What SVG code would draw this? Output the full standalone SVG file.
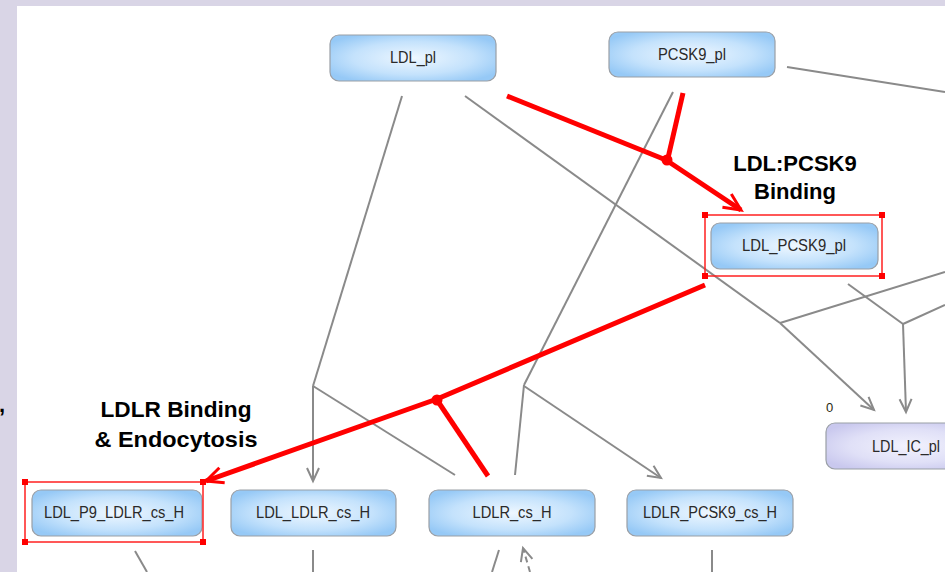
<svg xmlns="http://www.w3.org/2000/svg" width="945" height="572" viewBox="0 0 945 572">
<style>
.node rect{stroke:#9a9fa6;stroke-width:1.2}
.blue{fill:url(#gBlue)}
.lav{fill:url(#gLav)}
.node text{font-family:"Liberation Sans",Arial,sans-serif;font-size:16px;fill:#2a2a2a;text-anchor:middle}
.lbl{font-family:"Liberation Sans",Arial,sans-serif;font-weight:bold;font-size:22px;fill:#000;text-anchor:middle}
.g{fill:none;stroke:#8a8a8a;stroke-width:2}
.r{fill:none;stroke:#ff0000;stroke-width:5;stroke-linejoin:round}
.sel{fill:none;stroke:#ff2020;stroke-width:1.5}
.h{fill:#ff0000}
</style>
<defs>
<radialGradient id="gBlue" cx="50%" cy="50%" r="60%">
<stop offset="0" stop-color="#eef7ff"/>
<stop offset="0.6" stop-color="#c4e2fc"/>
<stop offset="1" stop-color="#96c9f6"/>
</radialGradient>
<radialGradient id="gLav" cx="50%" cy="50%" r="60%">
<stop offset="0" stop-color="#f2f2fd"/>
<stop offset="0.6" stop-color="#e0e0f7"/>
<stop offset="1" stop-color="#c9c8ee"/>
</radialGradient>
<marker id="ag" markerUnits="userSpaceOnUse" viewBox="-16 -9 18 18" refX="0" refY="0" markerWidth="18" markerHeight="18" orient="auto" overflow="visible">
<path d="M-13,-6 L0,0 L-13,6" fill="none" stroke="#8a8a8a" stroke-width="2"/>
</marker>
<marker id="ar" markerUnits="userSpaceOnUse" viewBox="-20 -12 22 24" refX="0" refY="0" markerWidth="22" markerHeight="24" orient="auto" overflow="visible">
<path d="M-17,-8 L0,0 L-17,8" fill="none" stroke="#ff0000" stroke-width="3"/>
</marker>
</defs>
<rect x="0" y="0" width="945" height="572" fill="#d9d5e6"/>
<rect x="17" y="6" width="928" height="566" fill="#ffffff"/>
<text x="-1" y="412" font-family="Liberation Sans,Arial,sans-serif" font-weight="bold" font-size="22" fill="#000">,</text>

<g id="connectors">
<path class="g" d="M402,96 L313,386"/>
<path class="g" d="M455,475 L313,386"/>
<path class="g" d="M313,386 L313,481" marker-end="url(#ag)"/>
<path class="g" d="M673,92 L524,385"/>
<path class="g" d="M515,475 L524,385"/>
<path class="g" d="M524,386 L661,478" marker-end="url(#ag)"/>
<path class="g" d="M465,96 L780,323"/>
<path class="g" d="M945,272 L780,323"/>
<path class="g" d="M780,323 L874,410" marker-end="url(#ag)"/>
<path class="g" d="M848,284 L903,324"/>
<path class="g" d="M945,305 L903,324"/>
<path class="g" d="M903,324 L906,412" marker-end="url(#ag)"/>
<path class="g" d="M787,67 L945,92"/>
<path class="g" d="M135,551 L147,572"/>
<path class="g" d="M313,550 L313,572"/>
<path class="g" d="M499,550 L492,572"/>
<path class="g" d="M530,572 L523,548" stroke-dasharray="6,4" marker-end="url(#ag)"/>
<path class="g" d="M712,550 L712,572"/>
<path class="r" d="M507,96 L666,160"/>
<path class="r" d="M683,93 L668,158"/>
<path class="r" d="M666,160 L741,210" marker-end="url(#ar)"/>
<circle cx="667" cy="160" r="5.5" fill="#ff0000"/>
<path class="r" d="M705,285 L437,399 L206,481" marker-end="url(#ar)"/>
<path class="r" d="M488,476 L437,400"/>
<circle cx="437" cy="400" r="5.5" fill="#ff0000"/>
</g>

<g id="n-LDL_pl" class="node"><rect class="blue" x="330" y="35" width="166" height="46" rx="9"/><text x="413" y="63" textLength="46" lengthAdjust="spacingAndGlyphs">LDL_pl</text></g>
<g id="n-PCSK9_pl" class="node"><rect class="blue" x="609" y="32" width="166" height="45" rx="9"/><text x="692" y="60" textLength="68" lengthAdjust="spacingAndGlyphs">PCSK9_pl</text></g>
<g id="n-LDL_PCSK9_pl" class="node"><rect class="blue" x="711" y="223" width="167" height="46" rx="9"/><text x="794" y="251" textLength="104" lengthAdjust="spacingAndGlyphs">LDL_PCSK9_pl</text></g>
<g id="n-LDL_P9_LDLR_cs_H" class="node"><rect class="blue" x="32" y="490" width="170" height="46" rx="9"/><text x="114" y="518" textLength="140" lengthAdjust="spacingAndGlyphs">LDL_P9_LDLR_cs_H</text></g>
<g id="n-LDL_LDLR_cs_H" class="node"><rect class="blue" x="231" y="490" width="165" height="46" rx="9"/><text x="313" y="518" textLength="114" lengthAdjust="spacingAndGlyphs">LDL_LDLR_cs_H</text></g>
<g id="n-LDLR_cs_H" class="node"><rect class="blue" x="429" y="490" width="166" height="46" rx="9"/><text x="512" y="518" textLength="79" lengthAdjust="spacingAndGlyphs">LDLR_cs_H</text></g>
<g id="n-LDLR_PCSK9_cs_H" class="node"><rect class="blue" x="627" y="490" width="166" height="46" rx="9"/><text x="710" y="518" textLength="134" lengthAdjust="spacingAndGlyphs">LDLR_PCSK9_cs_H</text></g>
<g id="n-LDL_IC_pl" class="node"><rect class="lav" x="826" y="423" width="166" height="46" rx="9"/><text x="906" y="452" textLength="68" lengthAdjust="spacingAndGlyphs">LDL_IC_pl</text></g>
<text x="826" y="412" font-family="Liberation Sans,Arial,sans-serif" font-size="13" fill="#2a2a10">0</text>

<g id="sel-LDL_PCSK9_pl">
<rect class="sel" x="705" y="215" width="177" height="61"/>
<rect class="h" x="702" y="212" width="6" height="6"/><rect class="h" x="879" y="212" width="6" height="6"/>
<rect class="h" x="702" y="273" width="6" height="6"/><rect class="h" x="879" y="273" width="6" height="6"/>
</g>
<g id="sel-LDL_P9_LDLR_cs_H">
<rect class="sel" x="25" y="482" width="178" height="60"/>
<rect class="h" x="22" y="479" width="6" height="6"/><rect class="h" x="200" y="479" width="6" height="6"/>
<rect class="h" x="22" y="539" width="6" height="6"/><rect class="h" x="200" y="539" width="6" height="6"/>
</g>

<g id="labels">
<text class="lbl" x="795" y="171">LDL:PCSK9</text>
<text class="lbl" x="795" y="199">Binding</text>
<text class="lbl" x="176" y="417" textLength="151" lengthAdjust="spacingAndGlyphs">LDLR Binding</text>
<text class="lbl" x="176" y="447" textLength="163" lengthAdjust="spacingAndGlyphs">&amp; Endocytosis</text>
</g>
</svg>
